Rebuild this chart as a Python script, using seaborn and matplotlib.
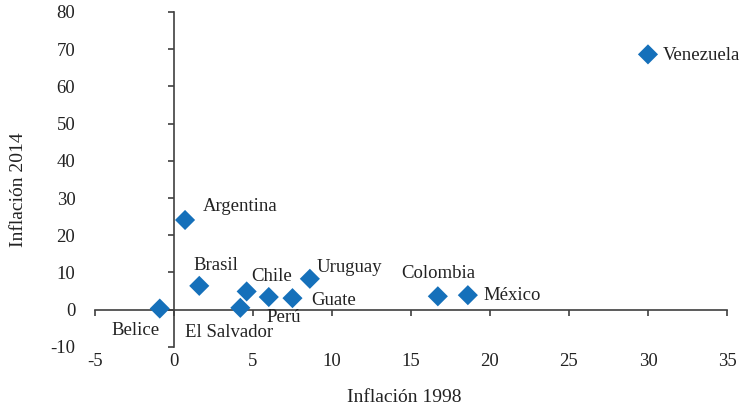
import matplotlib.pyplot as plt
import pandas as pd
import seaborn as sns

# Datos: inflación 1998 vs 2014
paises = ['Belice', 'Argentina', 'Brasil', 'El Salvador', 'Chile', 'Perú',
          'Guate', 'Uruguay', 'Colombia', 'México', 'Venezuela']
inflacion_1998 = [-0.9, 0.7, 1.6, 4.2, 4.6, 6.0, 7.5, 8.6, 16.7, 18.6, 30.0]
inflacion_2014 = [0.3, 24.1, 6.4, 0.5, 4.9, 3.4, 3.1, 8.3, 3.6, 3.9, 68.6]

x_ticks = [-5, 0, 5, 10, 15, 20, 25, 30, 35]
y_ticks = [-10, 0, 10, 20, 30, 40, 50, 60, 70, 80]

df = pd.DataFrame({'pais': paises, 'x': inflacion_1998, 'y': inflacion_2014})

# desplazamiento de etiquetas (puntos) y alineación
offsets = {
    'Belice': (0, -16, 'right'),
    'Argentina': (13, 9.5, 'left'),
    'Brasil': (-4.5, 15, 'left'),
    'El Salvador': (-40, -17.5, 'left'),
    'Chile': (3, 11, 'left'),
    'Perú': (-1.5, -15, 'left'),
    'Guate': (13.5, -1.5, 'left'),
    'Uruguay': (5, 8, 'left'),
    'Colombia': (-26, 16.5, 'left'),
    'México': (11.5, 0, 'left'),
    'Venezuela': (10.5, -1, 'left'),
}

sns.set_style('white')
plt.rcParams['font.family'] = ['Liberation Serif', 'DejaVu Serif']
plt.rcParams['axes.unicode_minus'] = False

fig = plt.figure(figsize=(7.45, 4.12), dpi=100)
ax = fig.add_axes([0.1275, 0.158, 0.8483, 0.813])

sns.scatterplot(data=df, x='x', y='y', marker='D', s=105, color='#1570BA',
                edgecolor='none', ax=ax, zorder=3, clip_on=False)

for _, row in df.iterrows():
    dx, dy, ha = offsets[row['pais']]
    ax.annotate(row['pais'], (row['x'], row['y']), xytext=(dx, dy),
                textcoords='offset points', ha=ha, va='center',
                fontsize=13.5, color='#222222')

ax.set_xlim(-5, 35)
ax.set_ylim(-10, 80)
ax.set_xticks(x_ticks)
ax.set_yticks(y_ticks)

# ejes cruzando en el origen
ax.spines['left'].set_position(('data', 0))
ax.spines['bottom'].set_position(('data', 0))
ax.spines['top'].set_visible(False)
ax.spines['right'].set_visible(False)
for s in ['left', 'bottom']:
    ax.spines[s].set_color('#404040')
    ax.spines[s].set_linewidth(1.2)

ax.tick_params(axis='x', direction='out', length=4, width=1.2, color='#404040',
               pad=27, labelsize=13.5, labelcolor='#222222', bottom=True)
ax.tick_params(axis='y', direction='out', length=4, width=1.2, color='#404040',
               pad=67, labelsize=13.5, labelcolor='#222222', left=True)

ax.set_xlabel('Inflación 1998', fontsize=14, color='#222222')
ax.set_ylabel('Inflación 2014', fontsize=14, color='#222222')
ax.xaxis.set_label_coords(0.49, -0.125)
ax.yaxis.set_label_coords(-0.108, 0.47)

plt.savefig('out.png', dpi=100)
